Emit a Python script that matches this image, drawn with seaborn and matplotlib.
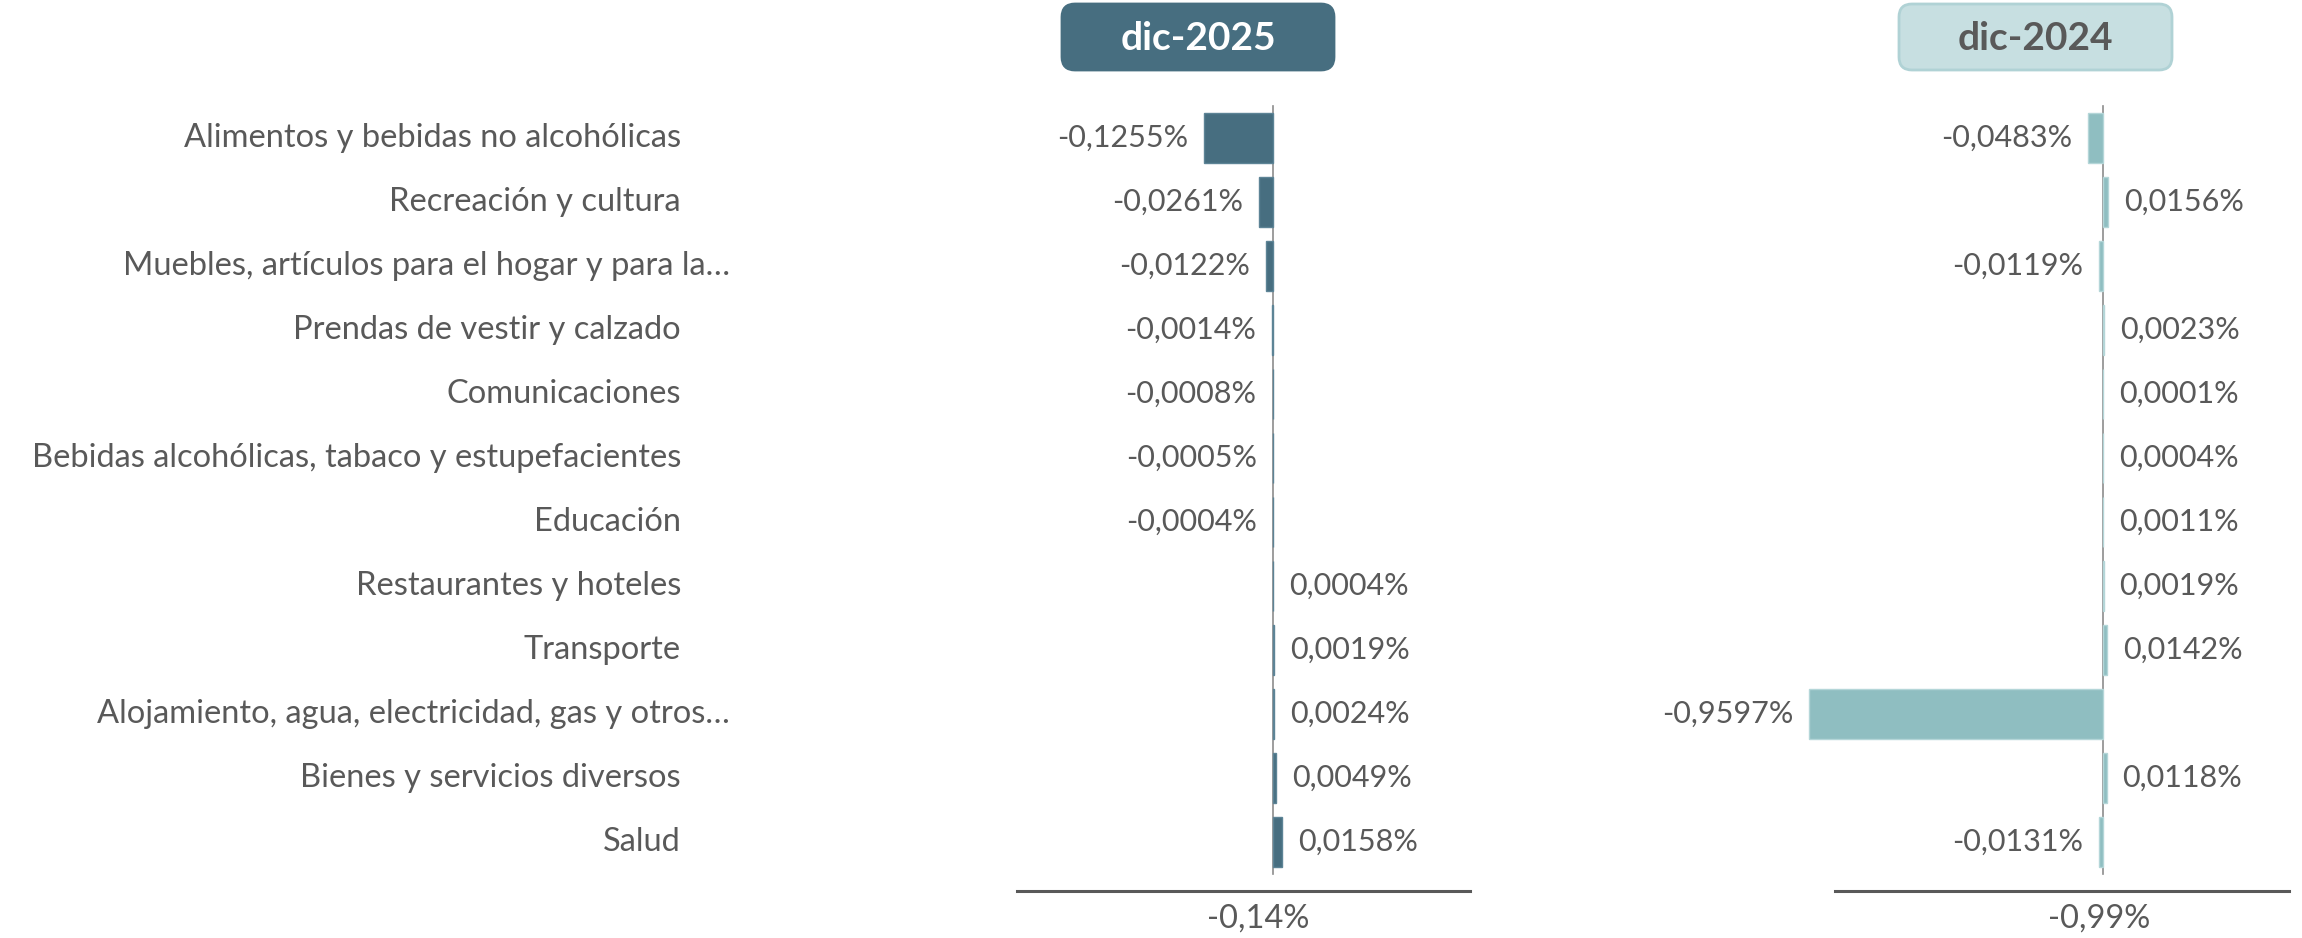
import numpy as np
import pandas as pd
import matplotlib
matplotlib.use("Agg")
import matplotlib.pyplot as plt
import matplotlib.transforms as mtransforms
from matplotlib.patches import FancyBboxPatch
import seaborn as sns

categorias = [
    "Alimentos y bebidas no alcohólicas",
    "Recreación y cultura",
    "Muebles, artículos para el hogar y para la…",
    "Prendas de vestir y calzado",
    "Comunicaciones",
    "Bebidas alcohólicas, tabaco y estupefacientes",
    "Educación",
    "Restaurantes y hoteles",
    "Transporte",
    "Alojamiento, agua, electricidad, gas y otros…",
    "Bienes y servicios diversos",
    "Salud",
]
dic_2025 = [-0.1255, -0.0261, -0.0122, -0.0014, -0.0008, -0.0005, -0.0004,
            0.0004, 0.0019, 0.0024, 0.0049, 0.0158]
dic_2024 = [-0.0483, 0.0156, -0.0119, 0.0023, 0.0001, 0.0004, 0.0011,
            0.0019, 0.0142, -0.9597, 0.0118, -0.0131]
periodos = ["dic-2025", "dic-2024"]
totales = [-0.14, -0.99]

W, H, DPI = 2302, 938, 100
gris = "#595959"
oscuro = "#476E80"
claro = "#8FBEC1"

sns.set_style("white")
plt.rcParams["font.family"] = ["Lato", "DejaVu Sans"]

fig = plt.figure(figsize=(W / DPI, H / DPI), dpi=DPI)


def fmt(v, dec):
    return f"{v:.{dec}f}".replace(".", ",") + "%"


def panel(px_left, px_right, px_zero, px_per, line_l, line_r, vals, color, edge, total, shift):
    top, bottom = 106, 874
    ax = fig.add_axes([px_left / W, 1 - bottom / H, (px_right - px_left) / W, (bottom - top) / H])
    df = pd.DataFrame({"cat": categorias, "val": vals})
    sns.barplot(data=df, x="val", y="cat", orient="h", ax=ax, color=color,
                width=0.78, edgecolor=edge, linewidth=1, saturation=1)
    ax.set_xlim((px_left - px_zero) / px_per, (px_right - px_zero) / px_per)
    ax.set_ylim(len(categorias) - 0.5, -0.5)
    ax.bar_label(ax.containers[0], labels=[fmt(v, 4) for v in vals],
                 padding=11.5, fontsize=22, color=gris)
    for s in ["top", "right"]:
        ax.spines[s].set_visible(False)
    ax.spines["left"].set_position(("data", 0))
    ax.spines["left"].set_color("#8c8c8c")
    ax.spines["left"].set_linewidth(1.2)
    ax.spines["left"].set_zorder(0.5)
    ax.set_yticks(np.arange(-0.5, len(categorias), 1))
    ax.set_yticklabels([])
    ax.tick_params(axis="y", direction="out", length=7, color="#8c8c8c", width=1.2)
    ax.spines["bottom"].set_position(("outward", 12))
    ax.spines["bottom"].set_bounds((line_l - px_zero) / px_per, (line_r - px_zero) / px_per)
    ax.spines["bottom"].set_color(gris)
    ax.spines["bottom"].set_linewidth(2.2)
    ax.set_xticks([0])
    ax.set_xticklabels([fmt(total, 2)])
    ax.tick_params(axis="x", length=0, pad=9, labelsize=23.5, labelcolor=gris)
    off = mtransforms.ScaledTranslation(shift / DPI, 0, fig.dpi_scale_trans)
    for lab in ax.get_xticklabels():
        lab.set_transform(lab.get_transform() + off)
    ax.set_xlabel("")
    ax.set_ylabel("")
    ax.patch.set_alpha(0)
    return ax


ax1 = panel(1000, 1480, 1273, 550, 1017, 1470, dic_2025, oscuro, "#5d8496", totales[0], -15)
ax2 = panel(1780, 2295, 2103, 306, 1835, 2289, dic_2024, claro, "#b4d6d8", totales[1], -4)

# etiquetas de categorias a la izquierda
tr = mtransforms.blended_transform_factory(fig.transFigure, ax1.transData)
for i, c in enumerate(categorias):
    x = 730 if c.endswith("…") else 681
    ax1.text(x / W, i, c, transform=tr, ha="right", va="center",
             fontsize=23.5, color=gris, clip_on=False)

# cabeceras
cajas = [(1062, 1334, oscuro, oscuro, "white"), (1899, 2172, "#C7DFE1", "#B0D2D5", gris)]
for (x0, x1, fc, ec, tc), p in zip(cajas, periodos):
    box = FancyBboxPatch((x0, H - 70), x1 - x0, 66, boxstyle="round,pad=0,rounding_size=13",
                         fc=fc, ec=ec, lw=2, transform=mtransforms.IdentityTransform())
    fig.add_artist(box)
    fig.text((x0 + x1) / 2 / W, 1 - 38 / H, p, ha="center", va="center",
             fontsize=28, fontweight="bold", color=tc)

fig.savefig("out.png", dpi=DPI)
